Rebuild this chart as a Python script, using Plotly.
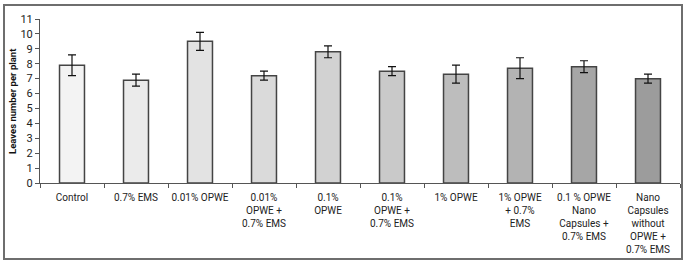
import plotly.graph_objects as go

categories = [
    "Control", "0.7% EMS", "0.01% OPWE", "0.01%<br>OPWE +<br>0.7% EMS", "0.1%<br>OPWE",
    "0.1%<br>OPWE +<br>0.7% EMS", "1% OPWE", "1% OPWE<br>+ 0.7%<br>EMS",
    "0.1 % OPWE<br>Nano<br>Capsules +<br>0.7% EMS",
    "Nano<br>Capsules<br>without<br>OPWE +<br>0.7% EMS",
]
values = [7.9, 6.9, 9.5, 7.2, 8.8, 7.5, 7.3, 7.7, 7.8, 7.0]
errors = [0.7, 0.4, 0.6, 0.3, 0.4, 0.3, 0.6, 0.7, 0.4, 0.3]
bar_colors = ["#f3f3f3", "#ebebeb", "#e3e3e3", "#dadada", "#d2d2d2",
              "#c9c9c9", "#bdbdbd", "#b3b3b3", "#a6a6a6", "#9c9c9c"]
y_ticks = list(range(0, 12))

FONT = "Roboto, Liberation Sans, Arial, sans-serif"

fig = go.Figure(go.Bar(
    x=categories, y=values,
    marker=dict(color=bar_colors, line=dict(color="#444444", width=1.5)),
    error_y=dict(type="data", array=errors, color="#111111", thickness=1.2, width=4),
    width=0.39,
))

L, R, T, B = 40, 9, 19, 80
W, H = 689, 263
pw, ph = W - L - R, H - T - B

def px_x(x):
    return (x - L) / pw

def px_y(y):
    return (H - B - y) / ph

fig.add_shape(type="rect", xref="paper", yref="paper",
              x0=px_x(4), x1=px_x(682), y0=px_y(259), y1=px_y(5),
              line=dict(color="#6e6e6e", width=2), layer="below")

fig.add_annotation(text="<b>Leaves number per plant</b>", xref="paper", yref="paper",
                   x=px_x(12), y=px_y(101), textangle=-90, showarrow=False,
                   xanchor="center", yanchor="middle",
                   font=dict(family=FONT, size=9.5, color="#111111"))

fig.update_layout(
    width=W, height=H,
    margin=dict(l=L, r=R, t=T, b=B),
    plot_bgcolor="white", paper_bgcolor="white",
    showlegend=False,
    font=dict(family=FONT, size=10, color="#222222"),
)
fig.update_xaxes(
    automargin=False,
    showline=True, linecolor="#555555", linewidth=1,
    ticks="outside", tickson="boundaries", ticklen=4, tickcolor="#555555",
    ticklabelstandoff=5,
    tickangle=0, tickfont=dict(family=FONT, size=10, color="#222222"),
    showgrid=False,
)
fig.update_yaxes(
    automargin=False,
    range=[0, 11], tickvals=y_ticks,
    showline=True, linecolor="#555555", linewidth=1,
    ticks="outside", ticklen=4, tickcolor="#555555",
    showgrid=False, zeroline=False,
    tickfont=dict(family=FONT, size=11, color="#222222"),
)

fig.write_html("out.html", config={"displayModeBar": False},
               post_script="document.body.style.margin='0';document.body.style.overflow='hidden';")
